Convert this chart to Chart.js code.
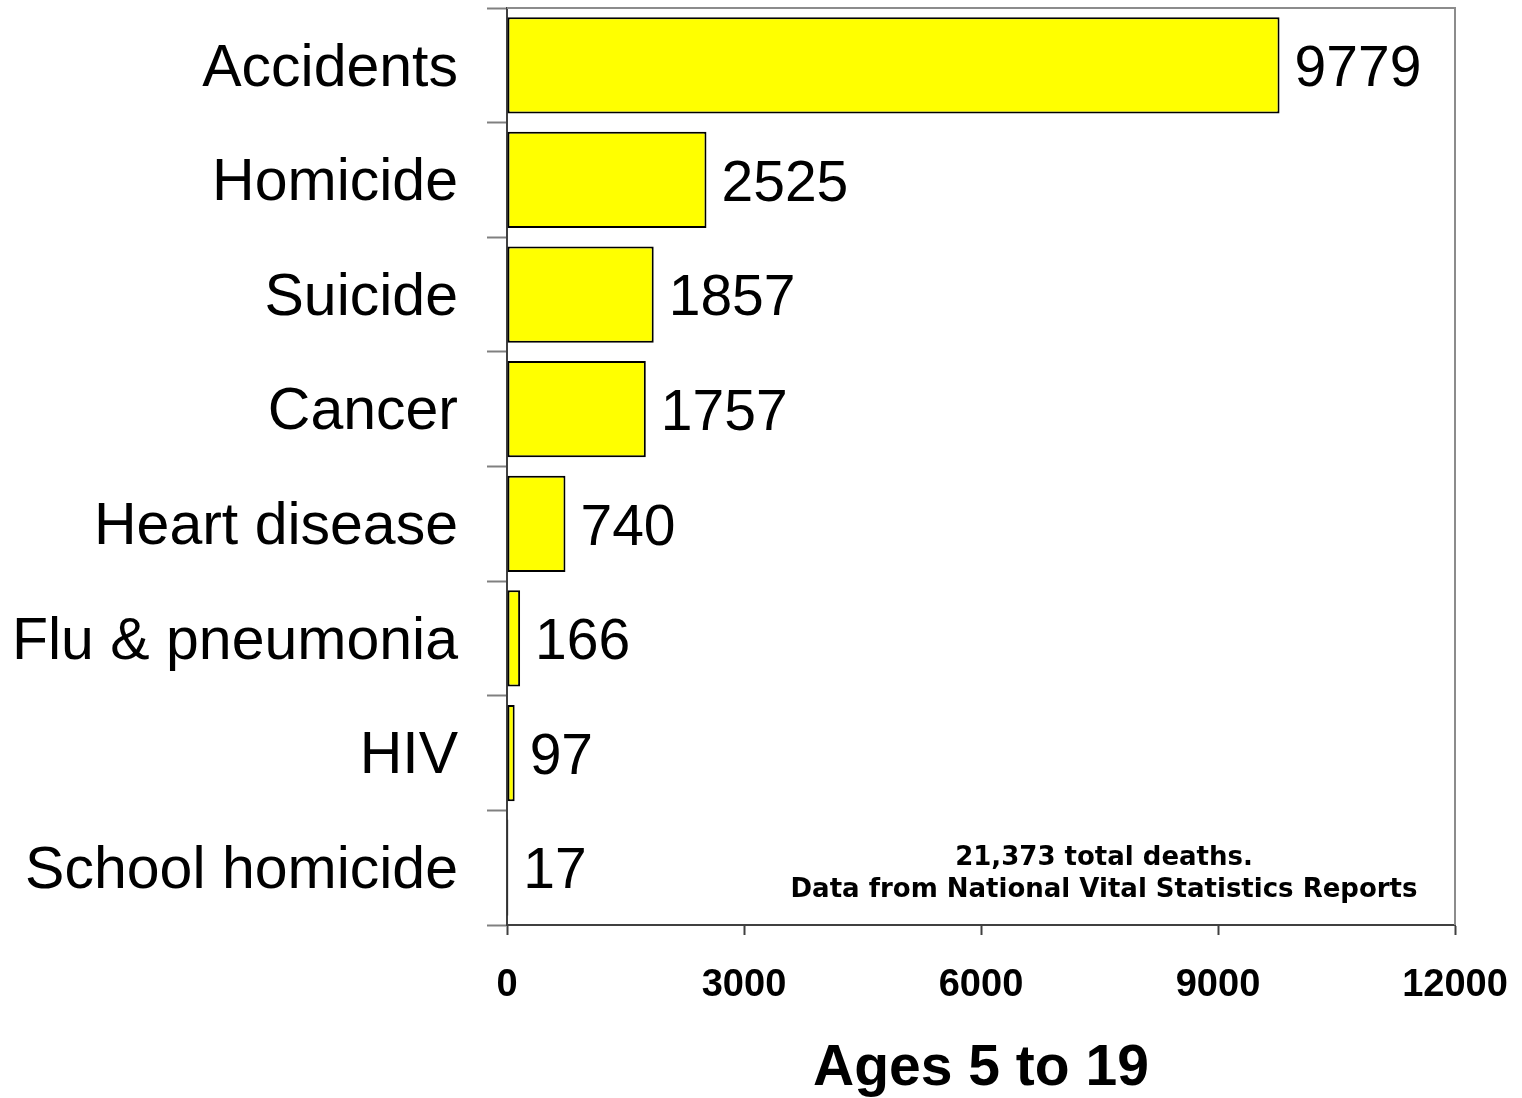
<!DOCTYPE html>
<html>
<head>
<meta charset="utf-8">
<script src="https://cdn.jsdelivr.net/npm/chart.js@4"></script>
<style>
  html, body { margin: 0; padding: 0; background: #fff; }
  #wrap { width: 1522px; height: 1098px; }
</style>
</head>
<body>
<div id="wrap"><canvas id="deathsChart"></canvas></div>
<script>
// Causes of death, ages 5 to 19
const causes = ['Accidents', 'Homicide', 'Suicide', 'Cancer', 'Heart disease', 'Flu & pneumonia', 'HIV', 'School homicide'];
const deaths = [9779, 2525, 1857, 1757, 740, 166, 97, 17];
const xTicks = [0, 3000, 6000, 9000, 12000];
const noteLines = ['21,373 total deaths.', 'Data from National Vital Statistics Reports'];
const axisTitle = 'Ages 5 to 19';

// value labels, frame and note
const extrasPlugin = {
  id: 'extras',
  afterDatasetsDraw(chart) {
    const ctx = chart.ctx;
    const area = chart.chartArea;
    ctx.save();

    // gray frame on top and right
    ctx.strokeStyle = '#8c8c8c';
    ctx.lineWidth = 2;
    ctx.beginPath();
    ctx.moveTo(area.left, area.top);
    ctx.lineTo(area.right, area.top);
    ctx.lineTo(area.right, area.bottom);
    ctx.stroke();

    // values next to the bars
    ctx.fillStyle = '#000';
    ctx.font = '57px "Liberation Sans", Arial, sans-serif';
    ctx.textBaseline = 'middle';
    ctx.textAlign = 'left';
    chart.getDatasetMeta(0).data.forEach((bar, i) => {
      ctx.fillText(String(deaths[i]), bar.x + 15, bar.y + 5);
    });

    // source note
    ctx.font = 'bold 26px "DejaVu Sans", Verdana, sans-serif';
    ctx.textAlign = 'center';
    const cx = area.right - 351;
    noteLines.forEach((line, i) => {
      ctx.fillText(line, cx, area.bottom - 67 + i * 32);
    });
    ctx.restore();
  }
};

const ctx = document.getElementById('deathsChart').getContext('2d');
new Chart(ctx, {
  type: 'bar',
  data: {
    labels: causes,
    datasets: [{
      data: deaths,
      backgroundColor: '#ffff00',
      borderColor: '#000000',
      borderWidth: 2,
      borderSkipped: false,
      barPercentage: 0.84,
      categoryPercentage: 1.0
    }]
  },
  options: {
    indexAxis: 'y',
    responsive: true,
    maintainAspectRatio: false,
    animation: false,
    layout: { padding: { top: 8, right: 67, left: 0, bottom: 0 } },
    plugins: {
      legend: { display: false },
      tooltip: { enabled: false }
    },
    scales: {
      x: {
        min: 0,
        max: 12000,
        afterBuildTicks(axis) {
          axis.ticks = xTicks.map(v => ({ value: v }));
        },
        afterFit(axis) {
          axis.height = 173;
          axis.paddingLeft = 0;
          axis.paddingRight = 0;
        },
        grid: {
          drawOnChartArea: false,
          drawTicks: true,
          tickLength: 10,
          tickWidth: 2,
          color: '#404040'
        },
        border: { display: true, color: '#404040', width: 2 },
        ticks: {
          color: '#000',
          padding: 28,
          maxRotation: 0,
          callback: v => String(v),
          font: { family: '"Liberation Sans", Arial, sans-serif', size: 38, weight: 'bold' }
        },
        title: {
          display: true,
          text: axisTitle,
          color: '#000',
          padding: { top: 0, bottom: 0 },
          font: { family: '"Liberation Sans", Arial, sans-serif', size: 57, weight: 'bold', lineHeight: 1 }
        }
      },
      y: {
        afterFit(axis) {
          axis.width = 507;
          axis.paddingTop = 0;
          axis.paddingBottom = 0;
        },
        grid: {
          offset: true,
          drawOnChartArea: false,
          drawTicks: true,
          tickLength: 20,
          tickWidth: 2,
          color: '#808080'
        },
        border: { display: true, color: '#404040', width: 2 },
        ticks: {
          color: '#000',
          padding: 29,
          labelOffset: 4,
          font: { family: '"Liberation Sans", Arial, sans-serif', size: 59 }
        }
      }
    }
  },
  plugins: [extrasPlugin]
});
</script>
</body>
</html>
